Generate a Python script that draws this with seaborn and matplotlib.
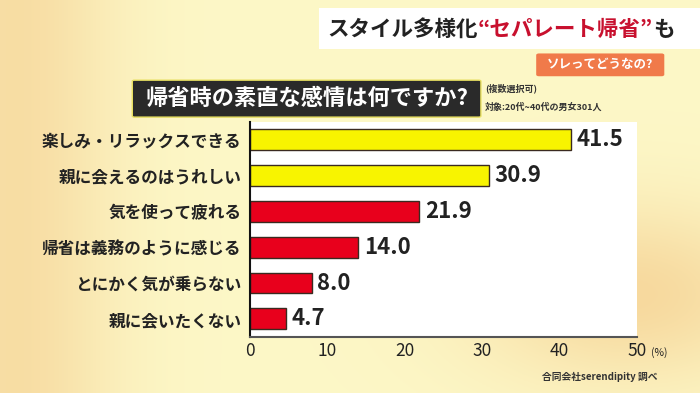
import matplotlib.pyplot as plt
import numpy as np
import pandas as pd
import seaborn as sns
from matplotlib.patches import FancyBboxPatch

categories = ["楽しみ・リラックスできる", "親に会えるのはうれしい", "気を使って疲れる",
              "帰省は義務のように感じる", "とにかく気が乗らない", "親に会いたくない"]
values = [41.5, 30.9, 21.9, 14.0, 8.0, 4.7]
groups = ["pos", "pos", "neg", "neg", "neg", "neg"]
ticks = [0, 10, 20, 30, 40, 50]

sns.set_theme(style="white")
plt.rcParams['font.family'] = ['Noto Sans CJK JP', 'DejaVu Sans']

fig = plt.figure(figsize=(7, 3.93), dpi=100)

# background gradient (warm yellow/orange)
bg = fig.add_axes([0, 0, 1, 1], zorder=0)
bg.axis("off")
yy, xx = np.mgrid[0:1:200j, 0:1:350j]
warm = np.exp(-((xx - 0.02) ** 2) / 0.02) * 0.6 + np.exp(-((xx - 0.9) ** 2 + (yy - 0.25) ** 2) / 0.05) * 0.7
warm = np.clip(warm, 0, 1)
c1 = np.array([0.99, 0.97, 0.78])
c2 = np.array([0.96, 0.80, 0.55])
img = c1[None, None, :] * (1 - warm[..., None]) + c2[None, None, :] * warm[..., None]
bg.imshow(img, extent=[0, 1, 0, 1], aspect="auto", origin="lower")
bg.set_xlim(0, 1)
bg.set_ylim(0, 1)

df = pd.DataFrame({"category": categories, "value": values, "group": groups})

ax = fig.add_axes([0.357, 0.143, 0.553, 0.547], zorder=2)
ax.set_facecolor("white")
sns.barplot(data=df, y="category", x="value", hue="group", orient="h",
            palette={"pos": "#f8f400", "neg": "#e8001c"}, dodge=False, saturation=1,
            width=0.58, edgecolor="#3a2a20", linewidth=1.0, legend=False, ax=ax)
ax.set_xlim(0, 50)
ax.set_xticks(ticks)
ax.set_xticklabels([str(t) for t in ticks], fontsize=12.5, color="#222222")
ax.set_xlabel("")
ax.set_ylabel("")
ax.tick_params(axis="y", labelsize=12, length=0, pad=6)
for lbl in ax.get_yticklabels():
    lbl.set_fontweight("bold")
    lbl.set_color("#222222")
ax.tick_params(axis="x", length=4, direction="in", color="#666666", pad=4)
for s in ["top", "right"]:
    ax.spines[s].set_visible(False)
ax.spines["left"].set_color("#111111")
ax.spines["left"].set_linewidth(1.5)
ax.spines["bottom"].set_color("#555555")
ax.spines["bottom"].set_linewidth(1.5)
for i, v in enumerate(values):
    ax.text(v + 0.7, i, f"{v:.1f}", va="center", ha="left",
            fontsize=16, fontweight="bold", color="#222222")
ax.text(1.035, -0.05, "(%)", transform=ax.transAxes, fontsize=7.5,
        ha="left", va="top", color="#222222")

# header banner
fig.patches.append(FancyBboxPatch((0.455, 0.875), 0.56, 0.105, boxstyle="square,pad=0",
                                  transform=fig.transFigure, facecolor="white",
                                  edgecolor="none", zorder=1))
renderer = fig.canvas.get_renderer()
x0 = 0.468
for part, col in [("スタイル多様化", "#222222"), ("“セパレート帰省”", "#c8102e"), ("も", "#222222")]:
    t = fig.text(x0, 0.925, part, fontsize=15.5, fontweight="bold",
                 color=col, va="center", ha="left", zorder=3)
    bb = t.get_window_extent(renderer)
    x0 += bb.width / fig.bbox.width
fig.patches.append(FancyBboxPatch((0.77, 0.81), 0.175, 0.05, boxstyle="round,pad=0.004",
                                  transform=fig.transFigure, facecolor="#f07a4a",
                                  edgecolor="none", zorder=1))
fig.text(0.857, 0.835, "ソレってどうなの?", fontsize=9, fontweight="bold",
         color="white", va="center", ha="center", zorder=3)

# question box
fig.patches.append(FancyBboxPatch((0.192, 0.705), 0.492, 0.088, boxstyle="round,pad=0.003",
                                  transform=fig.transFigure, facecolor="#2a2a2a",
                                  edgecolor="#e8e060", linewidth=1, zorder=1))
fig.text(0.438, 0.749, "帰省時の素直な感情は何ですか?", fontsize=16, fontweight="bold",
         color="white", va="center", ha="center", zorder=3)
fig.text(0.693, 0.775, "(複数選択可)", fontsize=6.5, fontweight="bold",
         color="#333333", va="center", ha="left", zorder=3)
fig.text(0.693, 0.728, "対象:20代~40代の男女301人", fontsize=6.5, fontweight="bold",
         color="#333333", va="center", ha="left", zorder=3)

fig.text(0.94, 0.04, "合同会社serendipity 調べ", fontsize=7, fontweight="bold",
         color="#333333", va="center", ha="right", zorder=3)

fig.savefig("out.png", dpi=100)
